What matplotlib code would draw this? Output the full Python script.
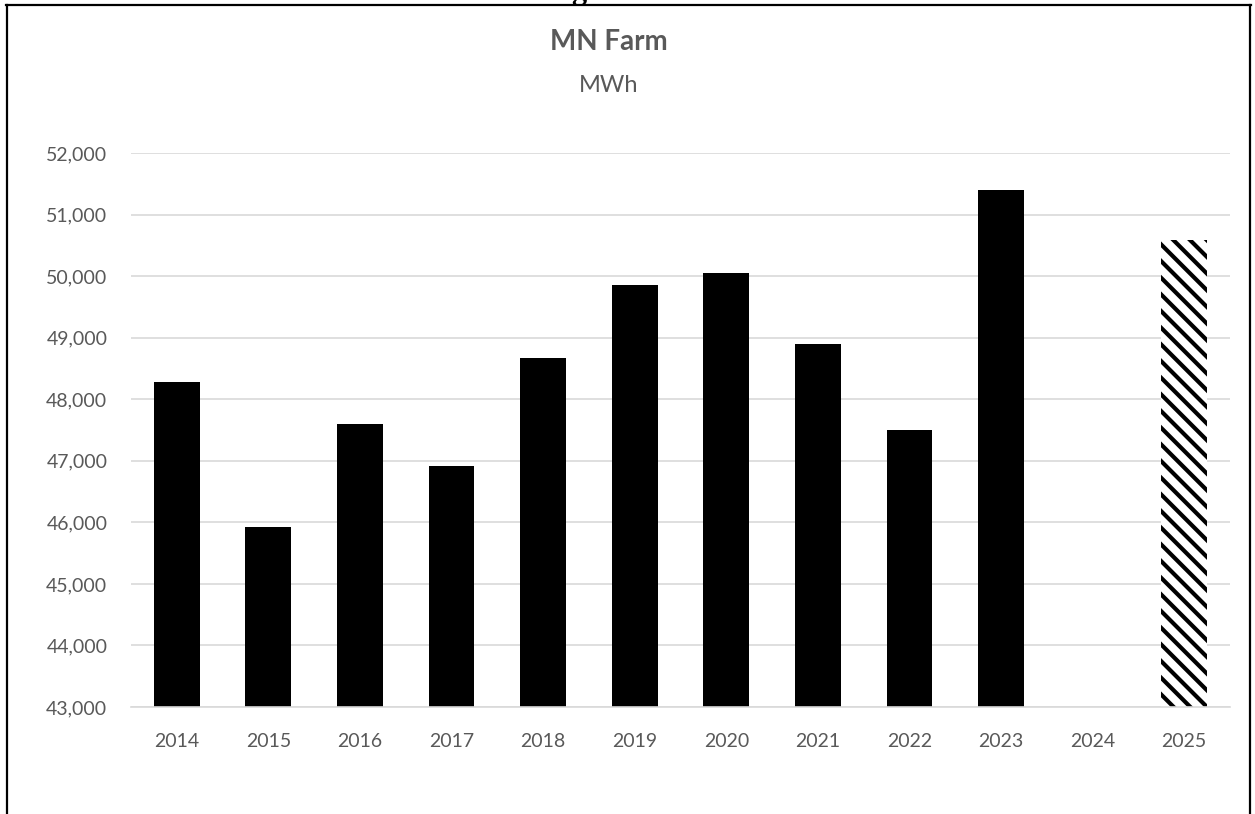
import matplotlib.pyplot as plt
import numpy as np
from matplotlib.lines import Line2D

years = ['2014', '2015', '2016', '2017', '2018', '2019', '2020', '2021', '2022', '2023', '2024', '2025']
mwh = [48280, 45920, 47600, 46910, 48670, 49850, 50050, 48900, 47500, 51400, None, 50580]
projected = [False, False, False, False, False, False, False, False, False, False, False, True]
yticks = list(range(43000, 52001, 1000))

plt.rcParams['font.family'] = ['Lato', 'DejaVu Sans']
plt.rcParams['hatch.linewidth'] = 3.0

W, H = 1255, 814
fig = plt.figure(figsize=(W / 100, H / 100), dpi=100)
ax = fig.add_axes([131 / W, 107 / H, (1230 - 131) / W, (707 - 153) / H])

x = np.arange(len(years))
for i, v in enumerate(mwh):
    if v is None:
        continue
    if projected[i]:
        ax.bar(x[i], v, width=0.5, color='white', edgecolor='black', hatch='\\\\', linewidth=0)
    else:
        ax.bar(x[i], v, width=0.5, color='black', edgecolor='none')

ax.set_xlim(-0.5, len(years) - 0.5)
ax.set_ylim(yticks[0], yticks[-1])
ax.set_xticks(x)
ax.set_xticklabels(years)
ax.set_yticks(yticks)
ax.set_yticklabels([f'{t:,}' for t in yticks])
ax.yaxis.grid(True, color='#d9d9d9', linewidth=1.2)
ax.set_axisbelow(True)
for s in ['top', 'right', 'left']:
    ax.spines[s].set_visible(False)
ax.spines['bottom'].set_color('#d9d9d9')
ax.spines['bottom'].set_linewidth(1.2)
ax.tick_params(axis='both', length=0, labelsize=14, colors='#595959')
ax.tick_params(axis='y', pad=17)
ax.tick_params(axis='x', pad=19)

fig.text(609 / W, 1 - 42 / H, 'MN Farm', ha='center', va='center', fontsize=20,
         fontweight='bold', color='#595959')
fig.text(609 / W, 1 - 85 / H, 'MWh', ha='center', va='center', fontsize=17, color='#595959')

# cut-off caption above the chart frame
fig.text(579 / W, 1 + 1 / H, 'g', ha='center', va='baseline', fontsize=22,
         fontweight='bold', color='black', family=['Liberation Serif'])

# chart frame (bottom edge is outside the picture)
fig.add_artist(Line2D([7 / W, 7 / W], [0, 1 - 5 / H], color='black', linewidth=1.6))
fig.add_artist(Line2D([1250 / W, 1250 / W], [0, 1 - 5 / H], color='black', linewidth=1.6))
fig.add_artist(Line2D([6 / W, 1251 / W], [1 - 5 / H, 1 - 5 / H], color='black', linewidth=1.6))

fig.savefig('out.png', dpi=100)
